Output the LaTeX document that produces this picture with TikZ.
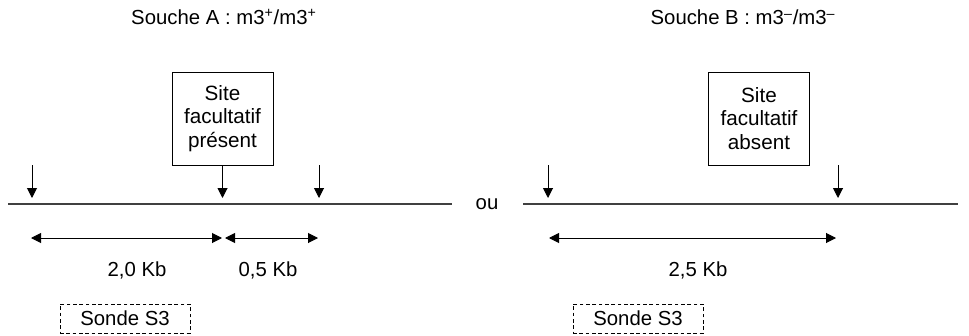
\documentclass[tikz,border=0pt]{standalone}
\usepackage{fontspec}
\setmainfont{Liberation Sans}
\usetikzlibrary{arrows.meta,positioning}
\definecolor{adn}{HTML}{404040}
\tikzset{
  titre/.style={font=\fontsize{12.2}{14.4}\selectfont, inner sep=0pt},
  sitebox/.style={rectangle, draw, line width=0.6pt, align=center, font=\fontsize{12.4}{14.1}\selectfont,
                  minimum width=60.6pt, minimum height=55.8pt, inner sep=2pt},
  sonde/.style={rectangle, draw, dashed, dash pattern=on 2.2pt off 1.6pt, line width=0.6pt,
                font=\fontsize{12.2}{14.4}\selectfont, minimum width=78pt, minimum height=17.4pt, inner sep=0pt},
  taille/.style={font=\fontsize{12.2}{14.4}\selectfont, inner sep=0pt},
  brin/.style={line width=1.1pt, draw=adn},
  coupe/.style={-{Triangle[length=6pt,width=6pt]}, line width=0.6pt},
  cote/.style={{Triangle[length=6pt,width=6pt]}-{Triangle[length=6pt,width=6pt]}, line width=0.6pt},
}
\begin{document}
\begin{tikzpicture}[x=0.6pt,y=-0.6pt]
        \useasboundingbox (0,0) rectangle (969,335);
        \node[titre] (tA) at (224,17) {Souche A : m3\textsuperscript{+}/m3\textsuperscript{+}};
        \node[titre] (tB) at (743,17) {Souche B : m3\textsuperscript{\raisebox{-0.15ex}{--}}/m3\textsuperscript{\raisebox{-0.15ex}{--}}};
        \node[sitebox] (siteP) at (222.5,118.5) {Site\\facultatif\\présent};
        \node[sitebox] (siteA) at (759,118.5) {Site\\facultatif\\absent};
        \coordinate (gA) at (8,204); \coordinate (dA) at (452,204);
        \coordinate (gB) at (523,204); \coordinate (dB) at (958,204);
        \node[titre] (ou) at (487,204) {ou};
        \coordinate (hA1) at (32,165); \coordinate (cA1) at (32,198);
        \coordinate (cA2) at (siteP.south |- cA1);
        \coordinate (hA3) at (319,165); \coordinate (cA3) at (319,198);
        \coordinate (hB1) at (548,165); \coordinate (cB1) at (548,198);
        \coordinate (hB2) at (838,165); \coordinate (cB2) at (838,198);
        \draw[brin] (gA) -- (dA); \draw[brin] (gB) -- (dB);
        \draw[coupe] (hA1) -- (cA1); \draw[coupe] (siteP.south) -- (cA2);
        \draw[coupe] (hA3) -- (cA3);
        \draw[coupe] (hB1) -- (cB1); \draw[coupe] (hB2) -- (cB2);
        \coordinate (kA1) at (31,238); \coordinate (kA2) at (222,238);
        \coordinate (kA3) at (225,238); \coordinate (kA4) at (318,238);
        \coordinate (kB1) at (549,238); \coordinate (kB2) at (836,238);
        \draw[cote] (kA1) -- (kA2); \draw[cote] (kA3) -- (kA4);
        \draw[cote] (kB1) -- (kB2);
        \node[taille] (lA1) at (137,270) {2,0 Kb};
        \node[taille] (lA2) at (268,270) {0,5 Kb};
        \node[taille] (lB) at (698,270) {2,5 Kb};
        \node[sonde] (sA) at (125,318.5) {Sonde S3};
        \node[sonde] (sB) at (638,318.5) {Sonde S3};
      \end{tikzpicture}
\end{document}
